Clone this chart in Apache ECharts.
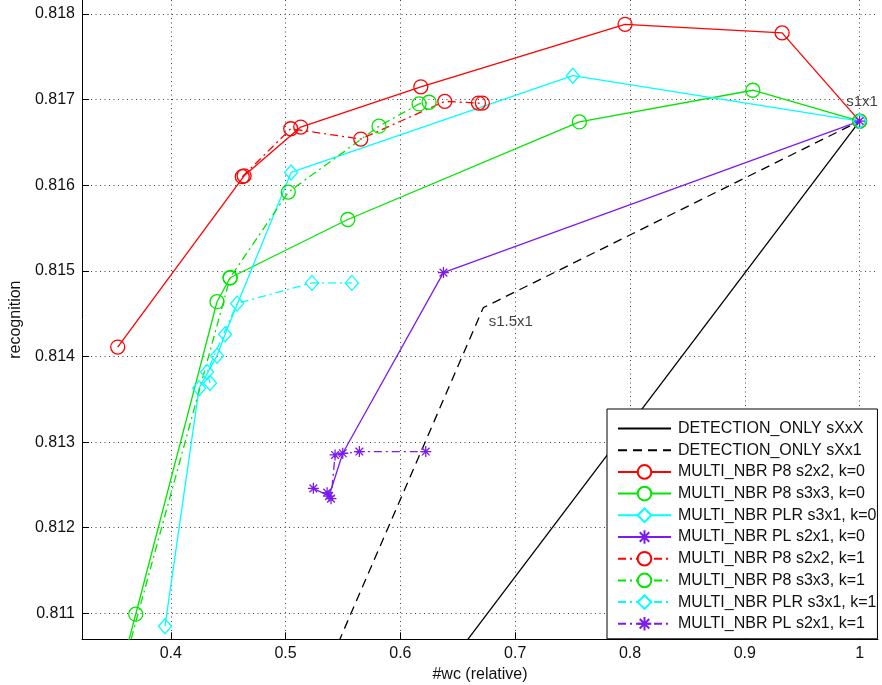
<!DOCTYPE html>
<html><head><meta charset="utf-8">
<script src="https://cdn.jsdelivr.net/npm/echarts@6/dist/echarts.min.js"></script>
<style>html,body{margin:0;padding:0;background:#fff}#c{width:882px;height:685px}</style>
</head><body><div id="c"></div>
<script>
// ---- data ----
const xTicks = [0.4, 0.5, 0.6, 0.7, 0.8, 0.9, 1.0];
const yTicks = [0.811, 0.812, 0.813, 0.814, 0.815, 0.816, 0.817, 0.818];

const detAllX = [0.6477, 1.0];
const detAllY = [0.8105, 0.81675];
const detX1X = [0.5409, 0.6722, 1.0];
const detX1Y = [0.8105, 0.81457, 0.81675];

const red0X = [0.3538, 0.4639, 0.5132, 0.6178, 0.7957, 0.9325, 1.0];
const red0Y = [0.81411, 0.81611, 0.81668, 0.81715, 0.81788, 0.81778, 0.81675];
const green0X = [0.3599, 0.3695, 0.4403, 0.4517, 0.5542, 0.7559, 0.907, 1.0];
const green0Y = [0.8105, 0.81099, 0.81464, 0.81492, 0.8156, 0.81674, 0.81711, 0.81675];
const cyan0X = [0.395, 0.4247, 0.4403, 0.4473, 0.5048, 0.7502, 1.0];
const cyan0Y = [0.81085, 0.81363, 0.81401, 0.81426, 0.81615, 0.81728, 0.81675];
const purple0X = [0.5242, 0.5379, 0.5498, 0.6375, 1.0];
const purple0Y = [0.81246, 0.81237, 0.81287, 0.81498, 0.81675];

const red1X = [0.4623, 0.5045, 0.5655, 0.6387, 0.668, 0.6714];
const red1Y = [0.8161, 0.81666, 0.81654, 0.81698, 0.81696, 0.81696];
const green1X = [0.3614, 0.4517, 0.5024, 0.5814, 0.6163, 0.625];
const green1Y = [0.8105, 0.81492, 0.81592, 0.81669, 0.81695, 0.81697];
const cyan1X = [0.4342, 0.4316, 0.4578, 0.523, 0.5577];
const cyan1Y = [0.81369, 0.81382, 0.81462, 0.81486, 0.81486];
const purple1X = [0.5362, 0.5396, 0.5431, 0.5643, 0.6221];
const purple1Y = [0.81241, 0.81234, 0.81285, 0.81289, 0.81289];

const names = [
  'DETECTION_ONLY sXxX', 'DETECTION_ONLY sXx1',
  'MULTI_NBR P8 s2x2, k=0', 'MULTI_NBR P8 s3x3, k=0', 'MULTI_NBR PLR s3x1, k=0', 'MULTI_NBR PL s2x1, k=0',
  'MULTI_NBR P8 s2x2, k=1', 'MULTI_NBR P8 s3x3, k=1', 'MULTI_NBR PLR s3x1, k=1', 'MULTI_NBR PL s2x1, k=1'
];
const pointLabels = [{ text: 's1x1', x: 1.0, y: 0.81675 }, { text: 's1.5x1', x: 0.6722, y: 0.81457 }];

// ---- styling ----
const FONT = "'Liberation Sans', Arial, sans-serif";
const FS = 16;
const RED = '#ff0000', GREEN = '#00e600', CYAN = '#00ffff', PURPLE = '#7d1af0';
const DASH = [9, 6], DASHDOT = [8, 4, 2, 4];
const STAR = 'path://M0,-10L0,10M-10,0L10,0M-7,-7L7,7M-7,7L7,-7';

function zip(xs, ys) { return xs.map((x, i) => [x, ys[i]]); }
function mk(name, xs, ys, color, dash, symbol, size) {
  return {
    name, type: 'line', data: zip(xs, ys), clip: true,
    symbol: symbol || 'none', symbolSize: size || 0, showAllSymbol: true,
    lineStyle: { color, width: 1.3, type: dash || 'solid' },
    itemStyle: { color: 'rgba(0,0,0,0)', borderColor: color, borderWidth: 1.3 },
    emphasis: { disabled: true }, animation: false, z: 2
  };
}

const series = [
  mk(names[0], detAllX, detAllY, '#000', 'solid'),
  mk(names[1], detX1X, detX1Y, '#000', DASH),
  mk(names[2], red0X, red0Y, RED, 'solid', 'circle', 14),
  mk(names[3], green0X, green0Y, GREEN, 'solid', 'circle', 14),
  mk(names[4], cyan0X, cyan0Y, CYAN, 'solid', 'diamond', [13, 15]),
  mk(names[5], purple0X, purple0Y, PURPLE, 'solid', STAR, 11),
  mk(names[6], red1X, red1Y, RED, DASHDOT, 'circle', 14),
  mk(names[7], green1X, green1Y, GREEN, DASHDOT, 'circle', 14),
  mk(names[8], cyan1X, cyan1Y, CYAN, DASHDOT, 'diamond', [13, 15]),
  mk(names[9], purple1X, purple1Y, PURPLE, DASHDOT, STAR, 11),
  {
    name: 'labels', type: 'scatter', symbolSize: 1, silent: true, animation: false,
    itemStyle: { color: 'rgba(0,0,0,0)' }, z: 5,
    data: pointLabels.map((p, i) => ({
      value: [p.x, p.y],
      label: {
        show: true, formatter: p.text, color: '#111', fontSize: 15, fontFamily: FONT,
        position: i === 0 ? [-13, -19] : [6, 14.5], align: 'left', verticalAlign: 'middle'
      }
    }))
  }
];

const legendData = names.map((n, i) => i < 2
  ? { name: n, itemStyle: { color: 'rgba(0,0,0,0)', borderColor: 'rgba(0,0,0,0)', borderWidth: 0, opacity: 0 } }
  : { name: n });

const chart = echarts.init(document.getElementById('c'), null, { renderer: 'canvas' });
chart.setOption({
  backgroundColor: '#fff',
  animation: false,
  grid: { left: 82, top: 0, right: 4, bottom: 45.7, containLabel: false, outerBoundsMode: 'none' },
  xAxis: {
    type: 'value', min: 0.3227, max: 1.016,
    name: '#wc (relative)', nameLocation: 'middle', nameGap: 20,
    nameTextStyle: { color: '#111', fontSize: FS, fontFamily: FONT },
    axisLine: { show: true, lineStyle: { color: '#000', width: 1 } },
    axisTick: { show: true, inside: true, length: 7, customValues: xTicks, lineStyle: { color: '#000' } },
    axisLabel: { customValues: xTicks, margin: 6, color: '#111', fontSize: FS, fontFamily: FONT,
      formatter: v => String(+(+v).toFixed(1)) },
    splitLine: { show: true, lineStyle: { color: '#444', width: 1, type: [1, 3.5] } }
  },
  yAxis: {
    type: 'value', min: 0.810697, max: 0.818164,
    name: 'recognition', nameLocation: 'middle', nameGap: 56, nameRotate: 90,
    nameTextStyle: { color: '#111', fontSize: FS, fontFamily: FONT },
    axisLine: { show: true, lineStyle: { color: '#000', width: 1 } },
    axisTick: { show: true, inside: true, length: 7, customValues: yTicks, lineStyle: { color: '#000' } },
    axisLabel: { customValues: yTicks, margin: 7, color: '#111', fontSize: FS, fontFamily: FONT,
      formatter: v => (+v).toFixed(3) },
    splitLine: { show: true, lineStyle: { color: '#444', width: 1, type: [1, 3.5] } }
  },
  legend: {
    data: legendData, orient: 'vertical', left: 607, top: 409,
    itemWidth: 53, itemHeight: 17, itemGap: 4.7,
    padding: [11, 1, 6.5, 10],
    backgroundColor: '#fff', borderColor: '#000', borderWidth: 1,
    textStyle: { color: '#111', fontSize: FS, fontFamily: FONT, lineHeight: 17, padding: [0, 0, 0, 2] },
    itemStyle: { color: '#fff' },
    selectedMode: false, z: 10
  },
  series
});
</script>
</body></html>
